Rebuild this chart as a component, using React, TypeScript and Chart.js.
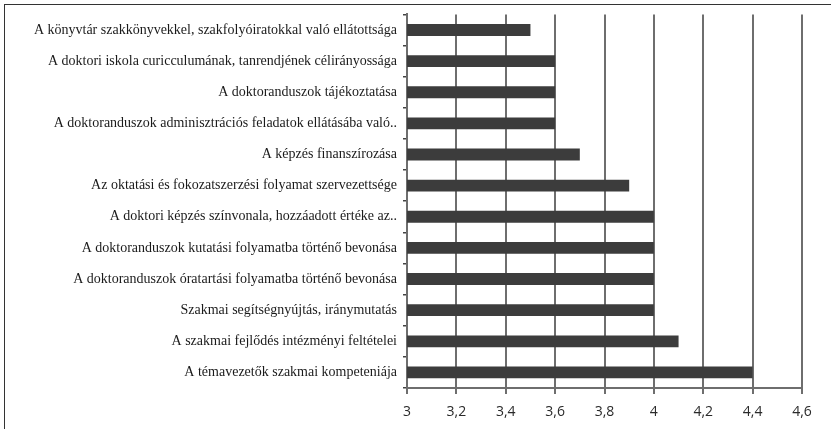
import React, { useEffect, useRef } from "react";
import { Chart, registerables } from "chart.js";

Chart.register(...registerables);

const categories: string[] = [
  "A könyvtár szakkönyvekkel, szakfolyóiratokkal való ellátottsága",
  "A doktori iskola curicculumának, tanrendjének célirányossága",
  "A doktoranduszok tájékoztatása",
  "A doktoranduszok adminisztrációs feladatok ellátásába való..",
  "A képzés finanszírozása",
  "Az oktatási és fokozatszerzési folyamat szervezettsége",
  "A doktori képzés színvonala, hozzáadott értéke az..",
  "A doktoranduszok kutatási folyamatba történő bevonása",
  "A doktoranduszok óratartási folyamatba történő bevonása",
  "Szakmai segítségnyújtás, iránymutatás",
  "A szakmai fejlődés intézményi feltételei",
  "A témavezetők szakmai kompeteniája",
];

const values: number[] = [3.5, 3.6, 3.6, 3.6, 3.7, 3.9, 4.0, 4.0, 4.0, 4.0, 4.1, 4.4];

const xMin = 3;
const xMax = 4.6;
const xStep = 0.2;

export default function App() {
  const ref = useRef<HTMLCanvasElement | null>(null);

  useEffect(() => {
    if (!ref.current) return;
    const chart = new Chart(ref.current, {
      type: "bar",
      data: {
        labels: categories,
        datasets: [
          {
            data: values,
            backgroundColor: "#3c3c3c",
            borderWidth: 0,
            barPercentage: 0.38,
            categoryPercentage: 1,
          },
        ],
      },
      options: {
        indexAxis: "y",
        responsive: false,
        animation: false,
        maintainAspectRatio: false,
        layout: { padding: { left: 0, right: 29, top: 10, bottom: 0 } },
        plugins: {
          legend: { display: false },
          tooltip: { enabled: false },
        },
        scales: {
          x: {
            min: xMin,
            max: xMax,
            afterFit: (scale: any) => {
              scale.height = 41;
            },
            ticks: {
              stepSize: xStep,
              color: "#2a2a2a",
              padding: 10,
              font: { family: "Open Sans", size: 14 },
              callback: (v: any) => String(Number(Number(v).toFixed(1))).replace(".", ","),
            },
            grid: {
              color: "#6e6e6e",
              lineWidth: 2,
              tickLength: 6,
              drawOnChartArea: true,
            },
            border: { display: true, color: "#6e6e6e", width: 2 },
          },
          y: {
            afterFit: (scale: any) => {
              scale.width = 407;
            },
            ticks: {
              color: "#1a1a1a",
              padding: 6,
              font: { family: "Liberation Serif", size: 14 },
            },
            grid: {
              drawOnChartArea: false,
              drawTicks: true,
              tickLength: 4,
              color: "#444",
              lineWidth: 1.5,
            },
            border: { display: true, color: "#6e6e6e", width: 2 },
          },
        },
      },
    });
    return () => chart.destroy();
  }, []);

  return (
    <div style={{ position: "absolute", left: 0, top: 0, width: 831, height: 429, overflow: "hidden", background: "#fff" }}>
      <div
        style={{
          position: "absolute",
          left: 4,
          top: 4,
          width: 840,
          height: 440,
          border: "1.5px solid #333",
          boxSizing: "border-box",
        }}
      />
      <canvas ref={ref} width={831} height={429} style={{ position: "absolute", left: 0, top: 0 }} />
    </div>
  );
}
